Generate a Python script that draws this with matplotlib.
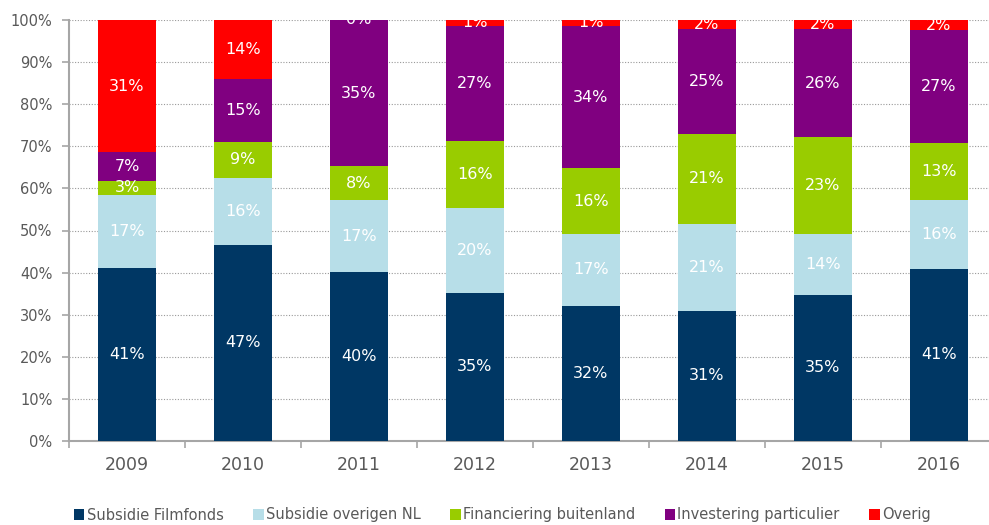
import matplotlib
matplotlib.use("Agg")
import matplotlib.pyplot as plt
import numpy as np

years = ["2009", "2010", "2011", "2012", "2013", "2014", "2015", "2016"]
series_names = ["Subsidie Filmfonds", "Subsidie overigen NL", "Financiering buitenland",
                "Investering particulier", "Overig"]
filmfonds = [41.1, 46.6, 40.1, 35.2, 32.1, 30.9, 34.7, 40.9]
overigen_nl = [17.3, 15.9, 17.1, 20.1, 17.1, 20.7, 14.4, 16.4]
buitenland = [3.4, 8.6, 8.1, 16.0, 15.6, 21.4, 23.0, 13.4]
particulier = [6.8, 14.9, 34.7, 27.3, 33.8, 24.9, 25.7, 26.9]
overig = [31.4, 14.0, 0.0, 1.4, 1.4, 2.1, 2.2, 2.4]
colors = ["#003764", "#B7DEE8", "#99CC00", "#800080", "#FF0000"]

data = [filmfonds, overigen_nl, buitenland, particulier, overig]

W, H = 989, 525
fig = plt.figure(figsize=(W / 100, H / 100), dpi=100)
ax = fig.add_axes([69 / W, 1 - 441 / H, 928 / W, (441 - 20) / H])

x = np.arange(len(years))
bottom = np.zeros(len(years))
for vals, name, col in zip(data, series_names, colors):
    v = np.array(vals) / 100.0
    ax.bar(x, v, 0.5, bottom=bottom, color=col, label=name, zorder=3)
    for xi, b, vi in zip(x, bottom, v):
        ax.text(xi, b + vi / 2, f"{vi * 100:.0f}%", ha="center", va="center",
                color="white", fontsize=11.5, zorder=4, clip_on=True)
    bottom += v

ax.set_xlim(-0.5, len(years) - 0.5)
ax.set_ylim(0, 1)
ax.set_yticks(np.arange(0, 1.01, 0.1))
ax.set_yticklabels([f"{int(round(t * 100))}%" for t in np.arange(0, 1.01, 0.1)])
ax.set_xticks(x)
ax.set_xticklabels(years)
ax.set_xticks(np.arange(-0.5, len(years), 1), minor=True)
ax.tick_params(axis="x", which="major", length=0, labelsize=12.5, colors="#595959", pad=11)
ax.tick_params(axis="x", which="minor", length=5, color="#A6A6A6", width=1.2)
ax.tick_params(axis="y", length=5, color="#A6A6A6", width=1.2, labelsize=10.5,
               labelcolor="#595959", pad=7)
ax.grid(axis="y", linestyle=(0, (1, 1.5)), color="#999999", linewidth=0.8, zorder=0)
for s in ["top", "right"]:
    ax.spines[s].set_visible(False)
for s in ["left", "bottom"]:
    ax.spines[s].set_color("#A6A6A6")
    ax.spines[s].set_linewidth(1.5)

handles, labels = ax.get_legend_handles_labels()
leg = fig.legend(handles, labels, loc="center", bbox_to_anchor=(0.508, 1 - 515 / H),
                 ncol=5, frameon=False, fontsize=10.5, handlelength=0.7, handleheight=0.7,
                 handletextpad=0.15, columnspacing=2.05, labelcolor="#595959")

fig.savefig("out.png", dpi=100)
